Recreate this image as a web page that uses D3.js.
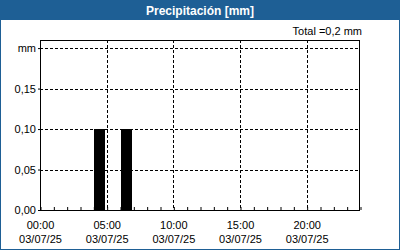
<!DOCTYPE html>
<html>
<head>
<meta charset="utf-8">
<script src="https://cdn.jsdelivr.net/npm/d3@7"></script>
<style>
  body { margin: 0; background: #fff; }
  svg { display: block; font-family: "Liberation Sans", Arial, sans-serif; }
</style>
</head>
<body>
<div id="chart"></div>
<script>
// data: hourly precipitation for one day
const hours = [0, 1, 2, 3, 4, 5, 6, 7, 8, 9, 10, 11, 12, 13, 14, 15, 16, 17, 18, 19, 20, 21, 22, 23];
const precip = [0, 0, 0, 0, 0.1, 0, 0.1, 0, 0, 0, 0, 0, 0, 0, 0, 0, 0, 0, 0, 0, 0, 0, 0, 0];
const xTickHours = [0, 5, 10, 15, 20];
const xTickLabels = ["00:00", "05:00", "10:00", "15:00", "20:00"];
const dateLabel = "03/07/25";
const yTicks = [0, 0.05, 0.10, 0.15, 0.20];
const yTickLabels = ["0,00", "0,05", "0,10", "0,15", "mm"];
const title = "Precipitación [mm]";
const totalLabel = "Total =0,2 mm";

const W = 400, H = 250;
const margin = { top: 40, right: 40, bottom: 40, left: 40 },
    width = W - margin.left - margin.right,
    height = H - margin.top - margin.bottom;

const blue = "#1e5f95";

const root = d3.select("#chart")
  .append("svg")
    .attr("width", W)
    .attr("height", H);

// frame + header
root.append("rect")
  .attr("x", 0.5).attr("y", 0.5)
  .attr("width", W - 1).attr("height", H - 1)
  .attr("fill", "#fff")
  .attr("stroke", blue);
root.append("rect")
  .attr("x", 0).attr("y", 0)
  .attr("width", W).attr("height", 20)
  .attr("fill", blue);
root.append("text")
  .attr("x", W / 2).attr("y", 15)
  .attr("text-anchor", "middle")
  .attr("fill", "#fff")
  .attr("font-weight", "bold")
  .attr("font-size", 12)
  .text(title);

root.append("text")
  .attr("x", 362).attr("y", 35)
  .attr("text-anchor", "end")
  .attr("font-size", 11)
  .attr("fill", "#000")
  .text(totalLabel);

const svg = root.append("g")
  .attr("transform", `translate(${margin.left},${margin.top})`);

const x = d3.scaleLinear().domain([0, 24]).range([0, width]);
const y = d3.scaleLinear().domain([0, 0.21]).range([height, 0]);

// grid
svg.selectAll(".hgrid")
  .data(yTicks.slice(1))
  .join("line")
    .attr("x1", 0).attr("x2", width)
    .attr("y1", d => Math.round(y(d)) + 0.5)
    .attr("y2", d => Math.round(y(d)) + 0.5)
    .attr("stroke", "#000")
    .attr("stroke-dasharray", "3,2");
svg.selectAll(".vgrid")
  .data(xTickHours.slice(1))
  .join("line")
    .attr("x1", d => Math.round(x(d)) + 0.5)
    .attr("x2", d => Math.round(x(d)) + 0.5)
    .attr("y1", 0).attr("y2", height)
    .attr("stroke", "#000")
    .attr("stroke-dasharray", "3,2");

// bars
svg.selectAll(".bar")
  .data(hours.map((h, i) => ({ h: h, v: precip[i] })).filter(d => d.v > 0))
  .join("rect")
    .attr("x", d => Math.round(x(d.h + 0.05)))
    .attr("width", d => Math.round(x(d.h + 0.87) - x(d.h + 0.05)))
    .attr("y", d => Math.round(y(d.v)))
    .attr("height", d => height - Math.round(y(d.v)))
    .attr("fill", "#000");

// minor hour ticks
svg.append("g")
  .attr("transform", `translate(0,${height})`)
  .call(d3.axisBottom(x).tickValues(d3.range(0, 25, 1)).tickSize(-3).tickFormat(""))
  .call(g => g.select(".domain").remove())
  .call(g => g.selectAll("line").attr("transform", "translate(0.5,0)"));

// x labels
const xl = svg.append("g")
  .attr("transform", `translate(0,${height})`)
  .call(d3.axisBottom(x).tickValues(xTickHours).tickSize(0).tickPadding(0).tickFormat(""))
  .call(g => g.select(".domain").remove());
xl.selectAll(".tick").each(function(d, i) {
  const t = d3.select(this);
  t.append("text").attr("y", 19).attr("fill", "#000").attr("font-size", 11)
    .attr("text-anchor", "middle").text(xTickLabels[i]);
  t.append("text").attr("y", 33).attr("fill", "#000").attr("font-size", 11)
    .attr("text-anchor", "middle").text(dateLabel);
});

// y axis labels
svg.append("g")
  .call(d3.axisLeft(y).tickValues(yTicks).tickSize(2).tickPadding(2)
    .tickFormat((d, i) => yTickLabels[i]))
  .call(g => g.select(".domain").remove())
  .call(g => g.selectAll("text").attr("font-size", 11).attr("fill", "#000")
    .attr("font-family", "Liberation Sans, Arial, sans-serif"))
  .call(g => g.selectAll("line").attr("stroke", "#000"));

// plot border
svg.append("rect")
  .attr("x", 0.5).attr("y", 0.5)
  .attr("width", width - 1).attr("height", height)
  .attr("fill", "none")
  .attr("stroke", "#000");
</script>
</body>
</html>
